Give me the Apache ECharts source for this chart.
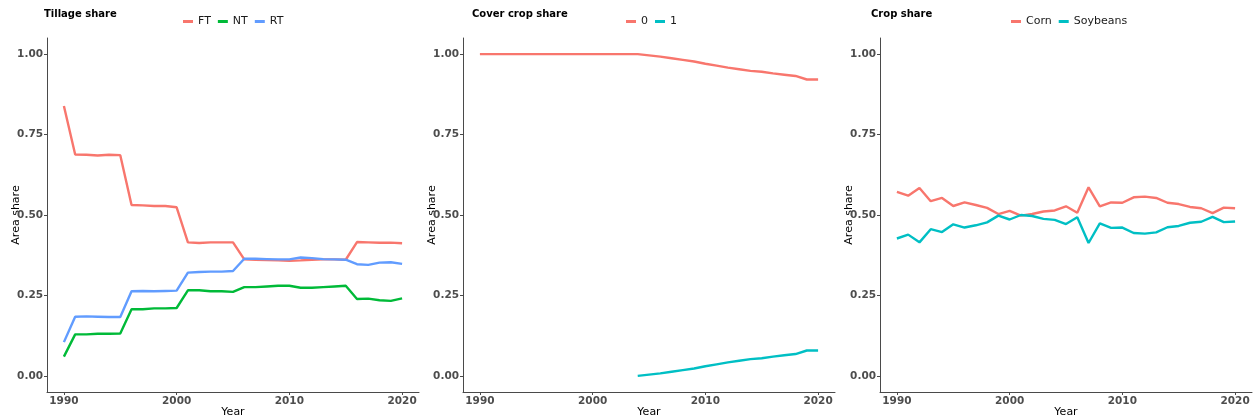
<!DOCTYPE html>
<html>
<head>
<meta charset="utf-8">
<script src="https://cdn.jsdelivr.net/npm/echarts@6/dist/echarts.min.js"></script>
<style>
  html, body { margin: 0; padding: 0; background: #fff; }
  #chart { width: 1253px; height: 419px; }
</style>
</head>
<body>
<div id="chart"></div>
<script>
// Years shared by every panel
const years = [1990,1991,1992,1993,1994,1995,1996,1997,1998,1999,2000,
               2001,2002,2003,2004,2005,2006,2007,2008,2009,2010,
               2011,2012,2013,2014,2015,2016,2017,2018,2019,2020];

// Tillage share
const tillFT = [0.839,0.688,0.687,0.685,0.687,0.686,0.531,0.530,0.528,0.528,0.524,
                0.415,0.413,0.415,0.415,0.415,0.362,0.361,0.360,0.359,0.358,
                0.359,0.361,0.362,0.362,0.361,0.416,0.415,0.414,0.414,0.412];
const tillNT = [0.060,0.129,0.129,0.131,0.131,0.132,0.207,0.207,0.210,0.210,0.211,
                0.266,0.266,0.263,0.263,0.261,0.276,0.276,0.278,0.280,0.280,
                0.274,0.274,0.276,0.278,0.280,0.239,0.240,0.235,0.233,0.241];
const tillRT = [0.105,0.184,0.185,0.184,0.183,0.183,0.263,0.264,0.263,0.264,0.265,
                0.321,0.323,0.324,0.324,0.326,0.364,0.364,0.363,0.362,0.362,
                0.368,0.366,0.363,0.362,0.361,0.347,0.345,0.352,0.353,0.348];

// Cover crop share (1 = cover crop recorded from 2004 onward)
const cover0 = [1,1,1,1,1,1,1,1,1,1,1,
                1,1,1,1.000,0.996,0.992,0.987,0.982,0.977,0.970,
                0.964,0.958,0.953,0.948,0.945,0.940,0.936,0.932,0.921,0.921];
const cover1 = [null,null,null,null,null,null,null,null,null,null,null,
                null,null,null,0.000,0.004,0.008,0.013,0.018,0.023,0.030,
                0.036,0.042,0.047,0.052,0.055,0.060,0.064,0.068,0.079,0.079];

// Crop share
const corn = [0.572,0.560,0.584,0.543,0.553,0.528,0.539,0.531,0.522,0.503,0.513,
              0.498,0.503,0.511,0.514,0.527,0.507,0.586,0.527,0.539,0.538,
              0.555,0.557,0.553,0.538,0.534,0.525,0.521,0.506,0.523,0.521];
const soy  = [0.427,0.439,0.415,0.456,0.447,0.471,0.461,0.468,0.477,0.498,0.486,
              0.500,0.497,0.488,0.485,0.472,0.493,0.413,0.474,0.460,0.461,
              0.444,0.442,0.446,0.462,0.466,0.476,0.479,0.494,0.478,0.480];

const yTicks = [0, 0.25, 0.5, 0.75, 1];
const xTicks = [1990, 2000, 2010, 2020];

const panelTitles = ['Tillage share', 'Cover crop share', 'Crop share'];
const panels = [
  { names: ['FT','NT','RT'], values: [tillFT, tillNT, tillRT], colors: ['#F8766D','#00BA38','#619CFF'] },
  { names: ['0','1'], values: [cover0, cover1], colors: ['#F8766D','#00BFC4'] },
  { names: ['Corn','Soybeans'], values: [corn, soy], colors: ['#F8766D','#00BFC4'] }
];

const FONT = 'DejaVu Sans';
const grids = [
  { left: 47,  right: 834, top: 38, bottom: 27, outerBoundsMode: 'none', containLabel: false },
  { left: 463, right: 418, top: 38, bottom: 27, outerBoundsMode: 'none', containLabel: false },
  { left: 880, right: 1,   top: 38, bottom: 27, outerBoundsMode: 'none', containLabel: false }
];
const titleLeft = [44, 472, 871];
const legendLeft = [183, 626, 1011];

const axisLine = { show: true, onZero: false, lineStyle: { color: '#4a4a4a', width: 1 } };
const tickStyle = { show: true, length: 3, lineStyle: { color: '#4a4a4a' } };
const labelStyle = { color: '#4d4d4d', fontFamily: FONT, fontWeight: 'bold', fontSize: 10.5, margin: 4 };

const option = {
  animation: false,
  backgroundColor: '#fff',
  title: panelTitles.map((t, i) => ({
    text: t, left: titleLeft[i], top: 9, padding: 0,
    textStyle: { fontFamily: FONT, fontWeight: 'bold', fontSize: 10, color: '#000' }
  })),
  legend: panels.map((p, i) => ({
    data: p.names.map(n => ({ name: n })),
    left: legendLeft[i], top: 16, padding: 0,
    icon: 'rect', itemWidth: 10, itemHeight: 3, itemGap: 7,
    textStyle: { fontFamily: FONT, fontSize: 11, color: '#1a1a1a' },
    selectedMode: false
  })),
  grid: grids,
  xAxis: grids.map((g, i) => ({
    type: 'value', gridIndex: i, min: 1988.5, max: 2021.5,
    name: 'Year', nameLocation: 'middle', nameGap: 15, nameMoveOverlap: false,
    nameTextStyle: { fontFamily: FONT, fontSize: 11, color: '#000' },
    axisLine: axisLine, splitLine: { show: false },
    axisTick: Object.assign({ customValues: xTicks }, tickStyle),
    axisLabel: Object.assign({ customValues: xTicks, formatter: v => String(v) }, labelStyle)
  })),
  yAxis: grids.map((g, i) => ({
    type: 'value', gridIndex: i, min: -0.05, max: 1.05,
    name: 'Area share', nameLocation: 'middle', nameGap: 25, nameMoveOverlap: false,
    nameTextStyle: { fontFamily: FONT, fontSize: 11, color: '#000' },
    axisLine: axisLine, splitLine: { show: false },
    axisTick: Object.assign({ customValues: yTicks }, tickStyle),
    axisLabel: Object.assign({ customValues: yTicks, formatter: v => v.toFixed(2) }, labelStyle)
  })),
  series: []
};

panels.forEach((p, i) => {
  p.names.forEach((n, k) => {
    option.series.push({
      type: 'line', name: n, xAxisIndex: i, yAxisIndex: i,
      data: years.map((y, j) => [y, p.values[k][j]]),
      showSymbol: false, symbol: 'none',
      connectNulls: false,
      color: p.colors[k],
      lineStyle: { width: 2.4, color: p.colors[k] }
    });
  });
});

const chart = echarts.init(document.getElementById('chart'), null, { renderer: 'canvas' });
chart.setOption(option);
</script>
</body>
</html>
